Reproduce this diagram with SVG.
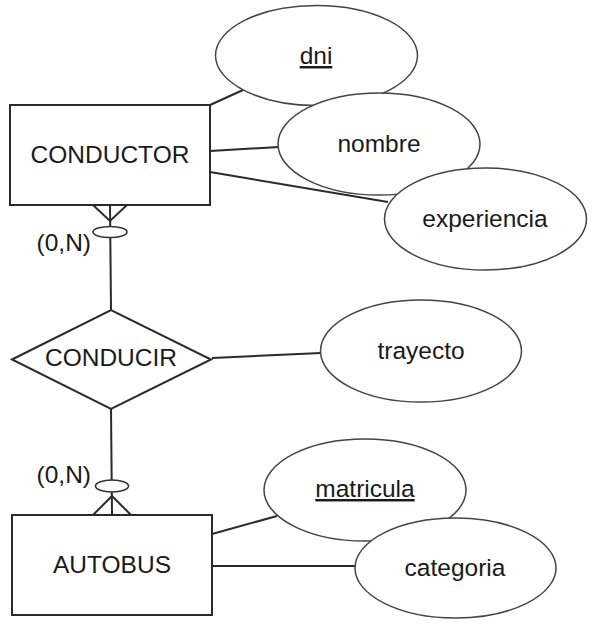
<svg xmlns="http://www.w3.org/2000/svg" width="596" height="632" viewBox="0 0 596 632">
<style>
.shape{fill:#fff;stroke:#2a2a2a;stroke-width:2}
.attr{fill:#fff;stroke:#444;stroke-width:1.5}
.edge{fill:none;stroke:#2a2a2a;stroke-width:2}
.card{fill:#fff;stroke:#333;stroke-width:1.6}
text{font-family:"Liberation Sans",Arial,sans-serif;font-size:24.5px;fill:#1a1a1a}
.c{text-anchor:middle}
.r{text-anchor:end}
.ul{text-decoration:underline}
</style>
<rect width="596" height="632" fill="#fff"/>
<g id="connectors">
<line class="edge" x1="210" y1="105" x2="243" y2="90"/>
<line class="edge" x1="210" y1="151" x2="279" y2="147"/>
<line class="edge" x1="210" y1="172" x2="388" y2="202"/>
<line class="edge" x1="212" y1="358" x2="321" y2="353"/>
<line class="edge" x1="212" y1="534" x2="277" y2="516"/>
<line class="edge" x1="212" y1="566" x2="356" y2="566"/>
<line class="edge" x1="110" y1="205" x2="111" y2="310"/>
<polyline class="edge" points="93,205 110,221 127,205"/>
<ellipse class="card" cx="110" cy="232" rx="17" ry="5.5"/>
<line class="edge" x1="111" y1="409" x2="112" y2="515"/>
<polyline class="edge" points="93,515 112,496 131,515"/>
<ellipse class="card" cx="112" cy="486" rx="16.5" ry="6"/>
<text class="r" x="91" y="251">(0,N)</text>
<text class="r" x="91" y="483">(0,N)</text>
</g>
<g id="dni">
<ellipse class="attr" cx="316.5" cy="55.5" rx="101" ry="50"/>
<text class="c ul" x="316" y="64">dni</text>
</g>
<g id="nombre">
<ellipse class="attr" cx="379" cy="144" rx="101" ry="51"/>
<text class="c" x="379" y="152">nombre</text>
</g>
<g id="experiencia">
<ellipse class="attr" cx="485.5" cy="219" rx="101" ry="51"/>
<text class="c" x="485" y="227">experiencia</text>
</g>
<g id="CONDUCTOR">
<rect class="shape" x="10" y="105" width="200" height="100"/>
<text class="c" x="110" y="163">CONDUCTOR</text>
</g>
<g id="CONDUCIR">
<polygon class="shape" points="12,359.5 111,310 211,359.5 111,409"/>
<text class="c" x="111" y="366">CONDUCIR</text>
</g>
<g id="trayecto">
<ellipse class="attr" cx="421" cy="351" rx="100.5" ry="51"/>
<text class="c" x="421" y="359">trayecto</text>
</g>
<g id="AUTOBUS">
<rect class="shape" x="12" y="515" width="200" height="100"/>
<text class="c" x="112" y="573">AUTOBUS</text>
</g>
<g id="matricula">
<ellipse class="attr" cx="365" cy="490" rx="101" ry="51"/>
<text class="c ul" x="365" y="497">matricula</text>
</g>
<g id="categoria">
<ellipse class="attr" cx="455.5" cy="568" rx="100.5" ry="50"/>
<text class="c" x="455" y="576">categoria</text>
</g>
</svg>
